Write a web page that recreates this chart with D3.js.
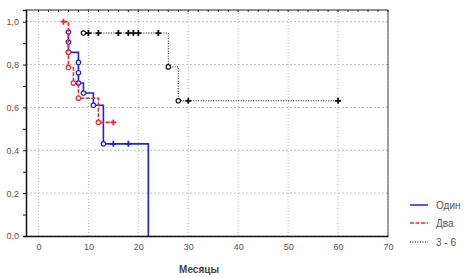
<!DOCTYPE html>
<html>
<head>
<meta charset="utf-8">
<script src="https://cdn.jsdelivr.net/npm/d3@7"></script>
<style>
  body { margin: 0; background: #fff; }
  svg { font-family: "Liberation Sans", Arial, sans-serif; }
</style>
</head>
<body>
<div id="chart"></div>
<script>
// series names for the legend
const seriesNames = ['Один', 'Два', '3 - 6']

// survival points per group: time (months), cumulative proportion, kind (o = event, + = censored, - = no marker)
const oneTimes = [6, 6, 6, 8, 8, 8, 9, 11, 13, 15, 18, 22]
const oneSurv = [0.952, 0.905, 0.857, 0.810, 0.762, 0.714, 0.667, 0.61, 0.43, 0.43, 0.43, 0]
const oneKind = ['o', 'o', 'o', 'o', 'o', 'o', 'o', 'o', 'o', '+', '+', '-']

const twoTimes = [5, 6, 6, 7, 8, 12, 15]
const twoSurv = [1.0, 0.857, 0.786, 0.714, 0.643, 0.53, 0.53]
const twoKind = ['+', 'o', 'o', 'o', 'o', 'o', '+']

const threeTimes = [9, 10, 12, 16, 18, 19, 20, 24, 26, 28, 30, 60]
const threeSurv = [0.947, 0.947, 0.947, 0.947, 0.947, 0.947, 0.947, 0.947, 0.789, 0.631, 0.631, 0.631]
const threeKind = ['o', '+', '+', '+', '+', '+', '+', '+', 'o', 'o', '+', '+']

const xTicks = [0, 10, 20, 30, 40, 50, 60, 70]
const yTicks = [0, 0.2, 0.4, 0.6, 0.8, 1.0]

const width = 473
const height = 278

const svg = d3.select('#chart')
    .append('svg')
    .attr('width', width)
    .attr('height', height)

// plot area
const plotLeft = 26, plotRight = 388, plotTop = 10, plotBottom = 236

const xScale = d3.scaleLinear()
    .domain([-2.5, 70])
    .range([plotLeft, plotRight])

const yScale = d3.scaleLinear()
    .domain([0, 1.0546])
    .range([plotBottom, plotTop])

// dotted grid
svg.append('g')
    .selectAll('line')
    .data(xTicks)
    .enter()
    .append('line')
        .attr('x1', d => xScale(d))
        .attr('x2', d => xScale(d))
        .attr('y1', plotTop)
        .attr('y2', plotBottom)
        .attr('stroke', '#bbb')
        .attr('stroke-dasharray', '1,2')

svg.append('g')
    .selectAll('line')
    .data(yTicks)
    .enter()
    .append('line')
        .attr('x1', plotLeft)
        .attr('x2', plotRight)
        .attr('y1', d => yScale(d))
        .attr('y2', d => yScale(d))
        .attr('stroke', '#bbb')
        .attr('stroke-dasharray', '2,2')

// top and right frame with small inner ticks
svg.append('line')
    .attr('x1', plotLeft).attr('x2', plotRight).attr('y1', plotTop).attr('y2', plotTop)
    .attr('stroke', '#222').attr('stroke-width', 1)
svg.append('line')
    .attr('x1', plotRight).attr('x2', plotRight).attr('y1', plotTop).attr('y2', plotBottom)
    .attr('stroke', '#444').attr('stroke-width', 1)

svg.append('g')
    .selectAll('line')
    .data(d3.range(0, 71, 2))
    .enter()
    .append('line')
        .attr('x1', d => xScale(d))
        .attr('x2', d => xScale(d))
        .attr('y1', plotTop)
        .attr('y2', plotTop + 2)
        .attr('stroke', '#222')

// axes
const xAxis = d3.axisBottom(xScale)
    .tickValues(xTicks)
    .tickSize(0)
    .tickPadding(8)
    .tickFormat(d3.format('d'))

const yAxis = d3.axisLeft(yScale)
    .tickValues(d3.range(0, 1.01, 0.1))
    .tickSize(3)
    .tickPadding(4)
    .tickFormat((d, i) => i % 2 === 0 ? d3.format('.1f')(d).replace('.', ',') : '')

const xGroup = svg.append('g')
    .attr('transform', `translate(0, ${plotBottom})`)
    .call(xAxis)

const yGroup = svg.append('g')
    .attr('transform', `translate(${plotLeft}, 0)`)
    .call(yAxis)

svg.selectAll('.domain')
    .attr('stroke', '#111')
    .attr('stroke-width', 1.5)

svg.selectAll('.tick text')
    .attr('font-size', '9px')
    .attr('fill', '#555')

yGroup.selectAll('.tick line').attr('stroke', '#111')

// x axis title
svg.append('text')
    .attr('x', 199)
    .attr('y', 273)
    .attr('text-anchor', 'middle')
    .attr('font-size', '10px')
    .attr('font-weight', 'bold')
    .attr('fill', '#444')
    .text('Месяцы')

// build step path and markers for one series
const drawSeries = (times, surv, kinds, color, dash, strokeWidth) => {
    const pts = times.map((t, i) => ({ t: t, s: surv[i], k: kinds[i] }))

    const line = d3.line()
        .x(d => xScale(d.t))
        .y(d => yScale(d.s))
        .curve(d3.curveStepAfter)

    svg.append('path')
        .datum(pts)
        .attr('d', line)
        .attr('fill', 'none')
        .attr('stroke', color)
        .attr('stroke-width', strokeWidth)
        .attr('stroke-dasharray', dash)

    // events as open circles
    svg.selectAll(null)
        .data(pts.filter(d => d.k === 'o'))
        .enter()
        .append('circle')
            .attr('cx', d => xScale(d.t))
            .attr('cy', d => yScale(d.s))
            .attr('r', 2.2)
            .attr('fill', '#fff')
            .attr('stroke', color)
            .attr('stroke-width', 1.2)

    // censored as plus signs
    svg.selectAll(null)
        .data(pts.filter(d => d.k === '+'))
        .enter()
        .append('path')
            .attr('d', d => {
                const x = xScale(d.t), y = yScale(d.s)
                return `M${x - 3},${y}H${x + 3}M${x},${y - 3}V${y + 3}`
            })
            .attr('stroke', color)
            .attr('stroke-width', 1.8)
}

drawSeries(oneTimes, oneSurv, oneKind, '#1f1fe0', null, 1.6)
drawSeries(twoTimes, twoSurv, twoKind, '#ee2a2a', '4,1.5', 1.6)
drawSeries(threeTimes, threeSurv, threeKind, '#111', '1,1.5', 1)

// legend
const legendColors = ['#1f1fe0', '#ee2a2a', '#111']
const legendDash = [null, '4,1.5', '1,1.5']
const legendY = [205, 223, 242]

const legend = svg.append('g')

legend.selectAll('line')
    .data(seriesNames)
    .enter()
    .append('line')
        .attr('x1', 410)
        .attr('x2', 428)
        .attr('y1', (d, i) => legendY[i])
        .attr('y2', (d, i) => legendY[i])
        .attr('stroke', (d, i) => legendColors[i])
        .attr('stroke-width', (d, i) => i === 2 ? 1 : 1.5)
        .attr('stroke-dasharray', (d, i) => legendDash[i])

legend.selectAll('text')
    .data(seriesNames)
    .enter()
    .append('text')
        .attr('x', 436)
        .attr('y', (d, i) => legendY[i] + 3.5)
        .attr('font-size', '10px')
        .attr('fill', '#555')
        .text(d => d)
</script>
</body>
</html>
